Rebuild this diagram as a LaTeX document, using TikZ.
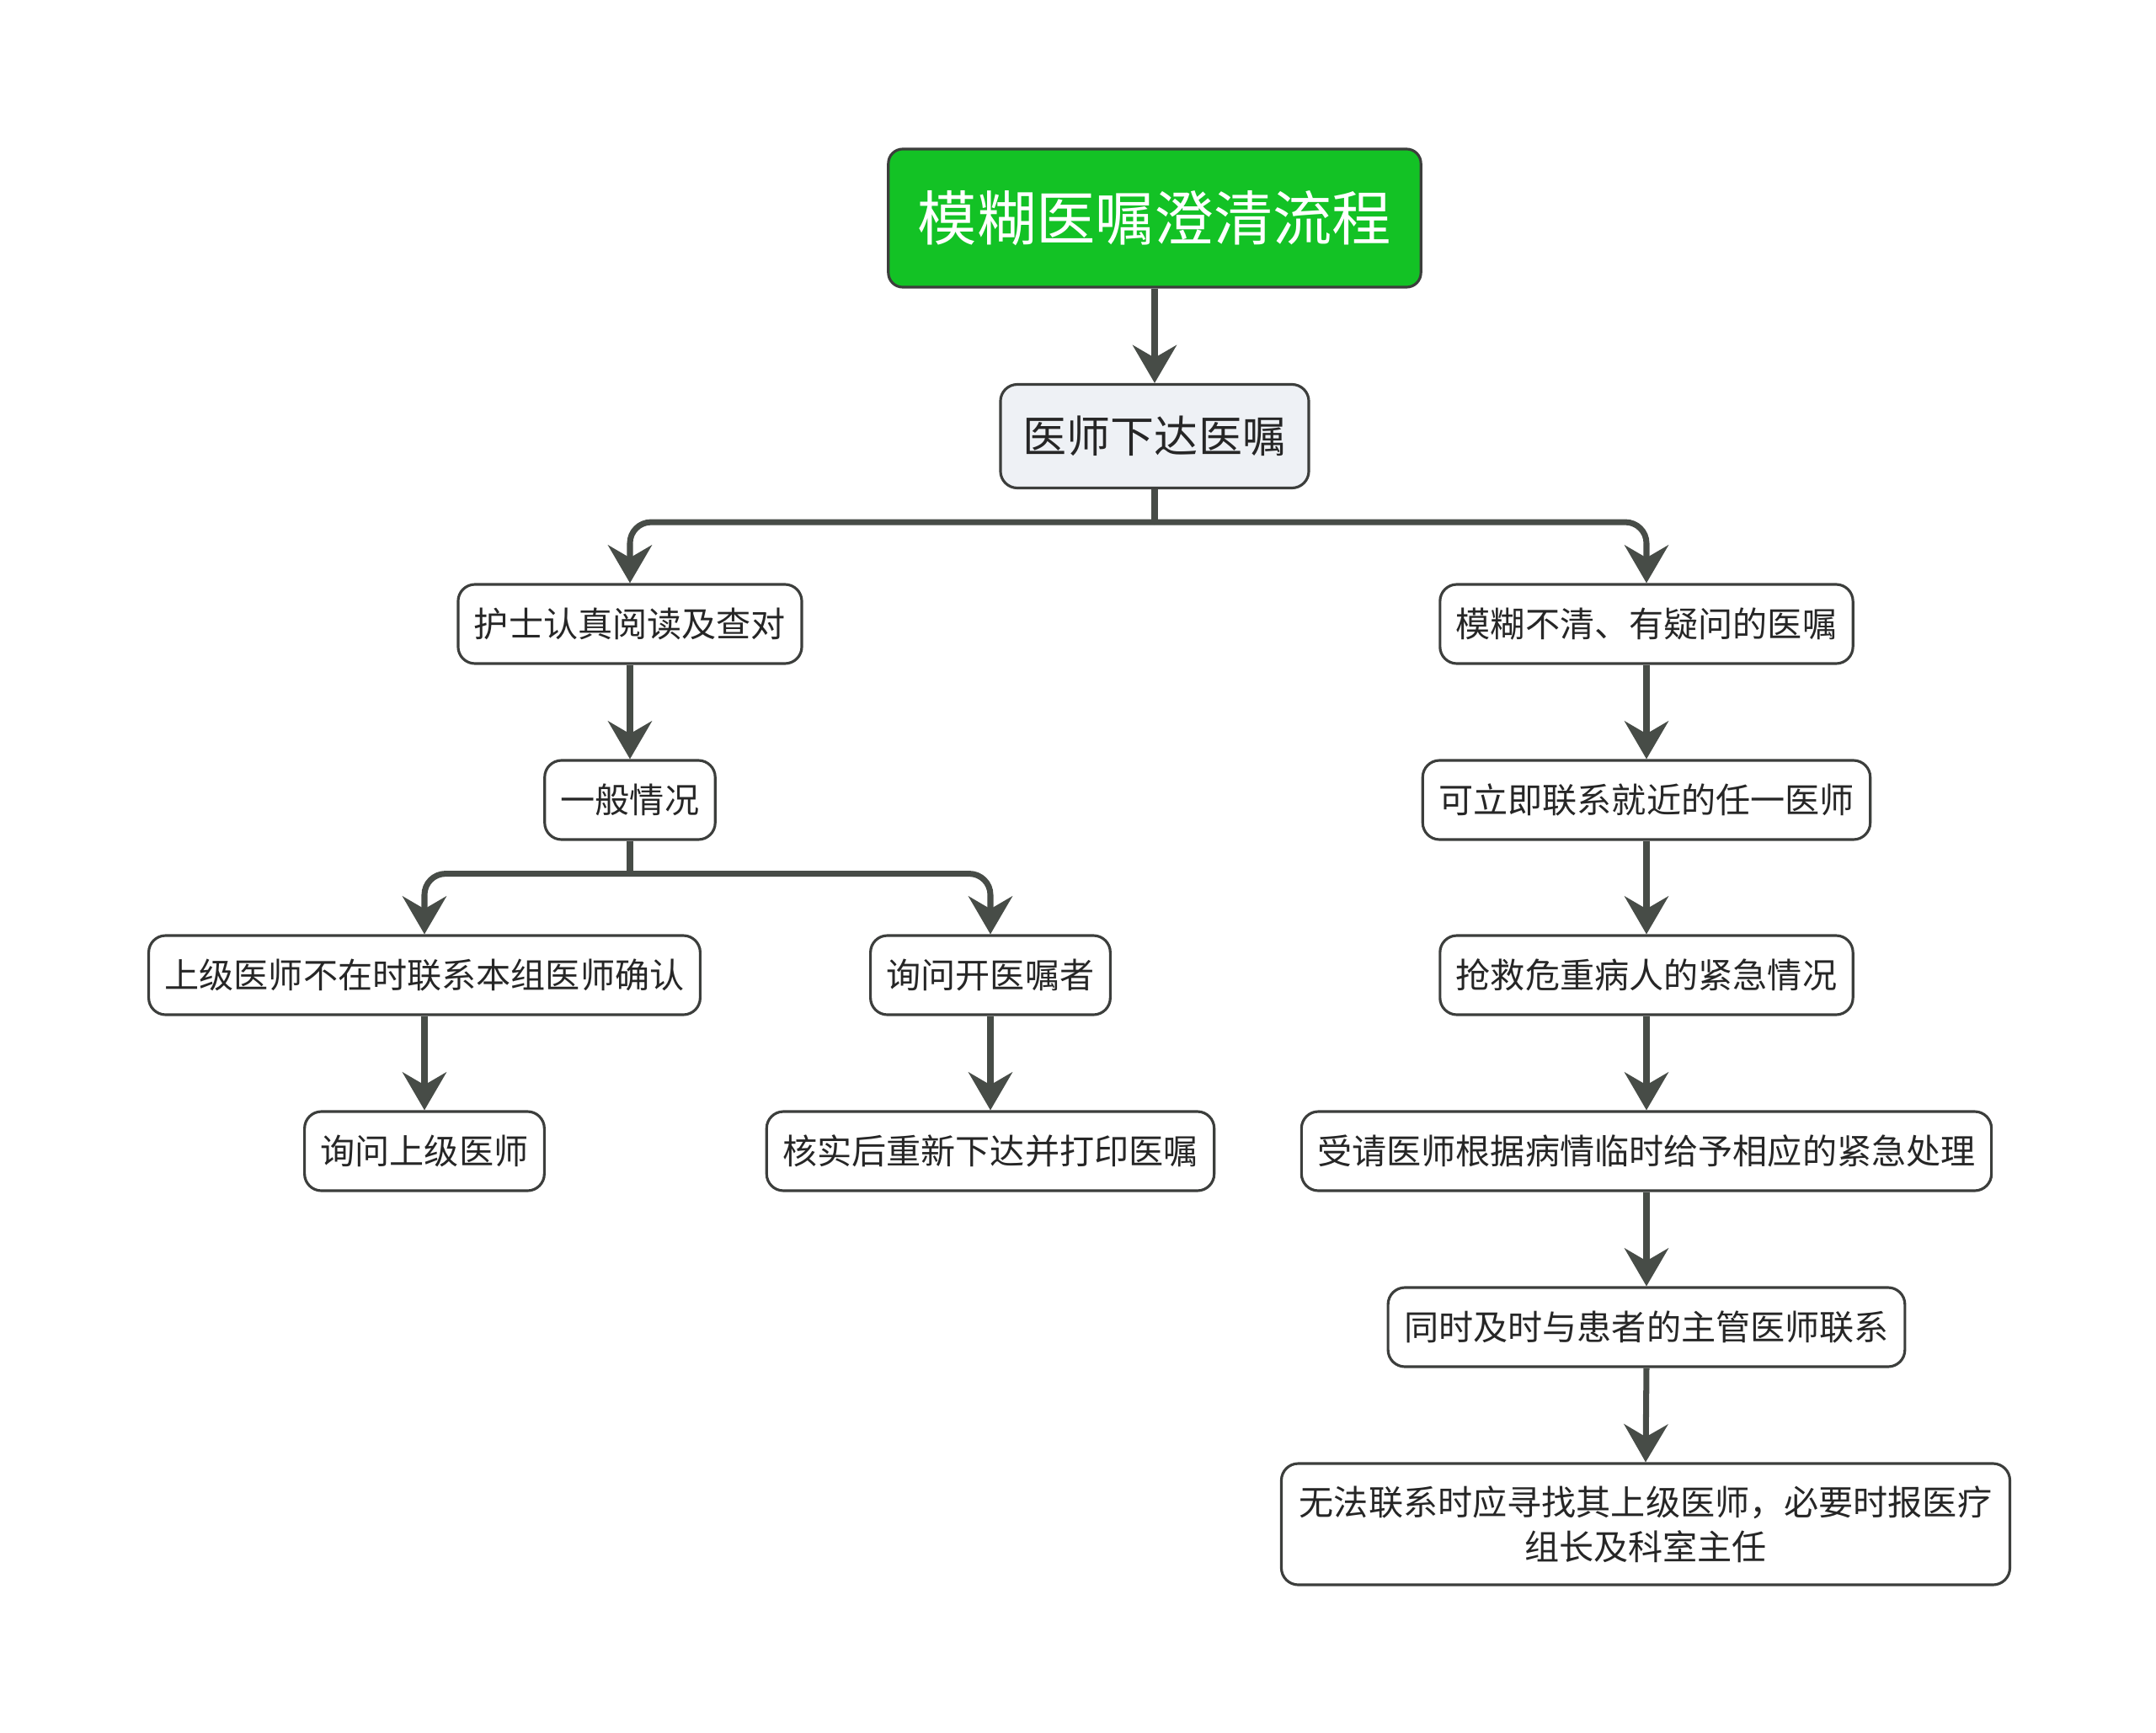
\documentclass[tikz,border=0pt]{standalone}
\usepackage{fontspec}
\setmainfont{Noto Sans CJK SC}
\usepackage{tikz}
\usetikzlibrary{shapes,arrows.meta,positioning,calc}
\usepackage{xcolor}
\definecolor{rootgreen}{RGB}{19,194,37}
\definecolor{lightslate}{RGB}{238,241,245}
\definecolor{boxline}{RGB}{60,62,60}
\definecolor{linkgray}{RGB}{71,76,71}

\tikzset{
  stepbox/.style={rectangle,draw=boxline,line width=0.9pt,rounded corners=0.2cm,fill=white,
    minimum height=0.94cm,inner xsep=0.19cm,text=black!85,font=\fontsize{11.7}{15}\selectfont},
  rootbox/.style={rectangle,draw=boxline,line width=0.9pt,rounded corners=0.17cm,fill=rootgreen,
    minimum height=1.64cm,inner xsep=0.35cm,text=white,font=\fontsize{20}{24}\selectfont},
  orderbox/.style={stepbox,fill=lightslate,minimum height=1.23cm,inner xsep=0.27cm,
    font=\fontsize{14.8}{18}\selectfont},
  link/.style={draw=linkgray,line width=2pt,-{Stealth[length=0.45cm,width=0.52cm,inset=0.15cm]}},
  trunk/.style={draw=linkgray,line width=2pt}
}

\begin{document}
\begin{tikzpicture}
        % Page frame
        \useasboundingbox (-13.71,2.59) rectangle (11.89,-17.99);

        % Title and first step
        \node[rootbox] (root) at (0,0) {模糊医嘱澄清流程};
        \node[orderbox] (order) at (0,-2.59) {医师下达医嘱};

        % Left branch
        \node[stepbox] (nurse) at (-6.23,-4.82) {护士认真阅读及查对};
        \node[stepbox] (general) at (-6.23,-6.91) {一般情况};
        \node[stepbox] (superior) at (-8.67,-8.99) {上级医师不在时联系本组医师确认};
        \node[stepbox] (askorder) at (-1.95,-8.99) {询问开医嘱者};
        \node[stepbox] (asksup) at (-8.67,-11.08) {询问上级医师};
        \node[stepbox] (verify) at (-1.95,-11.08) {核实后重新下达并打印医嘱};

        % Right branch
        \node[stepbox] (vague) at (5.84,-4.82) {模糊不清、有疑问的医嘱};
        \node[stepbox] (contact) at (5.84,-6.91) {可立即联系就近的任一医师};
        \node[stepbox] (rescue) at (5.84,-8.99) {抢救危重病人的紧急情况};
        \node[stepbox] (treat) at (5.84,-11.08) {受请医师根据病情临时给予相应的紧急处理};
        \node[stepbox] (attending) at (5.84,-13.17) {同时及时与患者的主管医师联系};
        \node[stepbox,minimum height=1.44cm,inner xsep=0.1cm,text width=8.45cm,align=center] (fallback) at (5.83,-15.51) {
            无法联系时应寻找其上级医师，必要时报医疗\\组长及科室主任
        };

        % Connectors
        \draw[link] (root.south) -- (order.north);

        \coordinate (fork1) at ($(order.south)+(0,-0.39)$);
        \draw[trunk] (order.south) -- (fork1);
        \draw[link,rounded corners=0.25cm] (fork1) -| (nurse.north);
        \draw[link,rounded corners=0.25cm] (fork1) -| (vague.north);

        \draw[link] (nurse.south) -- (general.north);
        \coordinate (fork2) at ($(general.south)+(0,-0.39)$);
        \draw[trunk] (general.south) -- (fork2);
        \draw[link,rounded corners=0.25cm] (fork2) -| (superior.north);
        \draw[link,rounded corners=0.25cm] (fork2) -| (askorder.north);
        \draw[link] (superior.south) -- (asksup.north);
        \draw[link] (askorder.south) -- (verify.north);

        \draw[link] (vague.south) -- (contact.north);
        \draw[link] (contact.south) -- (rescue.north);
        \draw[link] (rescue.south) -- (treat.north);
        \draw[link] (treat.south) -- (attending.north);
        \draw[link] (attending.south) -- (fallback.north);
    \end{tikzpicture}
\end{document}
